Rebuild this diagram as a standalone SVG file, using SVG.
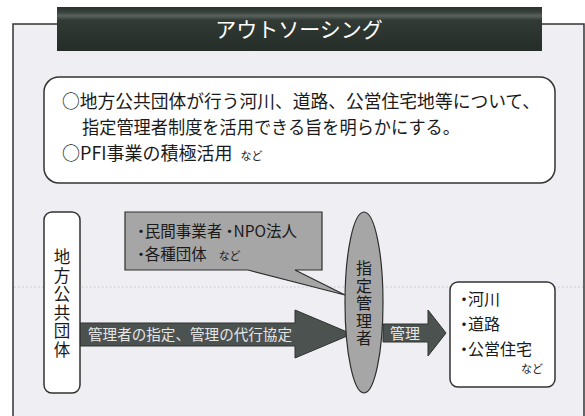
<svg xmlns="http://www.w3.org/2000/svg" width="585" height="416" viewBox="0 0 585 416">
<defs>
<linearGradient id="tg" x1="0" y1="0" x2="0" y2="1">
<stop offset="0" stop-color="#2a312e"/>
<stop offset="0.12" stop-color="#3a423e"/>
<stop offset="0.2" stop-color="#5a625e"/>
<stop offset="0.3" stop-color="#323a36"/>
<stop offset="1" stop-color="#252d29"/>
</linearGradient>
<style>
.jp{font-family:"Noto Sans CJK JP","Liberation Serif",sans-serif;fill:#1a1a1a;}
.vt{writing-mode:vertical-rl;text-anchor:middle;}
.box{fill:#ffffff;stroke:#333;stroke-width:1.5;}
.arrow{fill:#4c524f;stroke:#2e3230;stroke-width:1;}
.gray{fill:#a6a6a6;stroke:#2e2e2e;stroke-width:1.2;}
.wt{fill:#e6e6e6;font-family:"Noto Sans CJK JP",sans-serif;}
</style>
</defs>
<rect width="585" height="416" fill="#ffffff"/>
<rect id="panel" x="13" y="24" width="571" height="400" fill="#efeff3" stroke="#333" stroke-width="1.5"/>
<g id="title">
<rect x="57" y="7" width="485" height="44" fill="url(#tg)"/>
<text x="299" y="37" text-anchor="middle" font-size="21" fill="#ffffff" font-family="Noto Sans CJK JP,sans-serif">アウトソーシング</text>
</g>
<g id="summary">
<rect class="box" x="44" y="77" width="511" height="106" rx="15"/>
<text class="jp" font-size="18" x="62" y="108" textLength="478" lengthAdjust="spacingAndGlyphs">○地方公共団体が行う河川、道路、公営住宅地等について、</text>
<text class="jp" font-size="18" x="82" y="134" textLength="378" lengthAdjust="spacingAndGlyphs">指定管理者制度を活用できる旨を明らかにする。</text>
<text class="jp" font-size="18" x="62" y="160">○PFI事業の積極活用<tspan font-size="11" dx="8">など</tspan></text>
</g>
<line x1="14" y1="287" x2="583" y2="287" stroke="#c4c4c8" stroke-width="1.2" stroke-dasharray="1.5,2.5"/>
<g id="connectors">
<path class="arrow" d="M80,323 H295 V310 L352,334 L295,358 V346 H80 Z"/>
<text class="wt" x="88" y="340" font-size="14.6" textLength="204" lengthAdjust="spacingAndGlyphs">管理者の指定、管理の代行協定</text>
<path class="arrow" d="M383,324 H428 V310 L446,333 L428,356 V342 H383 Z"/>
<text class="wt" x="405" y="338.5" font-size="15" text-anchor="middle">管理</text>
</g>
<g id="callout">
<path class="gray" d="M125,212 H322 V270 H295 L345,295 L248,270 H125 Z"/>
<text class="jp" font-size="15.5" x="137" y="236.5" style="font-feature-settings:'palt'">・民間事業者 ・NPO法人</text>
<text class="jp" font-size="15.5" x="137" y="259.5" style="font-feature-settings:'palt'">・各種団体<tspan font-size="11" dx="12">など</tspan></text>
</g>
<g id="local-gov">
<rect class="box" x="44" y="212" width="36" height="181" rx="8"/>
<text class="jp vt" font-size="16.5" letter-spacing="2" x="62" y="304">地方公共団体</text>
</g>
<g id="designated-manager">
<ellipse class="gray" cx="364" cy="302.5" rx="19" ry="90.5"/>
<text class="jp vt" font-size="16" letter-spacing="1.5" x="364" y="304">指定管理者</text>
</g>
<g id="facilities">
<rect class="box" x="450" y="282" width="105" height="105" rx="8"/>
<text class="jp" font-size="16" x="460" y="305" style="font-feature-settings:'palt'">・河川</text>
<text class="jp" font-size="16" x="460" y="330" style="font-feature-settings:'palt'">・道路</text>
<text class="jp" font-size="16" x="460" y="355" style="font-feature-settings:'palt'">・公営住宅</text>
<text class="jp" font-size="11" x="543" y="373" text-anchor="end">など</text>
</g>
</svg>
